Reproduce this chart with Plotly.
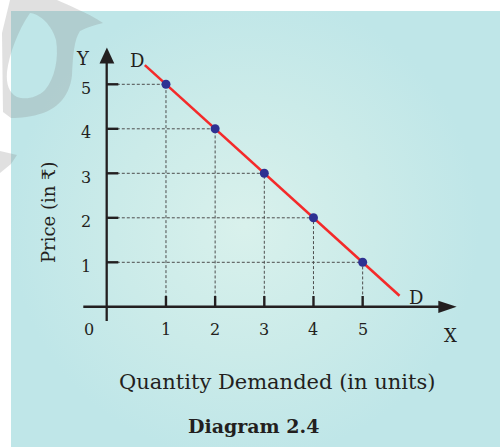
import base64
import plotly.graph_objects as go

# Demand schedule: quantity demanded at each price
quantity = [1, 2, 3, 4, 5]
price = [5, 4, 3, 2, 1]

# End points of the straight demand curve DD
curve_q = [0.57, 5.75]
curve_p = [5.43, 0.25]

# Axis tick values
x_ticks = [1, 2, 3, 4, 5]
y_ticks = [1, 2, 3, 4, 5]

# ---- geometry: figure size, pixel position of the origin and units per pixel ----
W, H = 500, 447
OX, OY = 116.8, 306.8
UX, UY = 49.17, 44.5


def dx(px):
    return (px - OX) / UX


def dy(py):
    return (OY - py) / UY


INK = "#231f20"
RED = "#f42a2a"
DOT = "#2e3192"
SERIF = "DejaVu Serif, Liberation Serif, serif"

# ---- background: white page, tinted panel with soft radial light, grey watermark ----
svg = f"""<svg xmlns='http://www.w3.org/2000/svg' width='{W}' height='{H}' viewBox='0 0 {W} {H}'>
<defs>
<radialGradient id='g' gradientUnits='userSpaceOnUse' cx='245' cy='225' r='235'>
<stop offset='0' stop-color='#d9f1ec'/>
<stop offset='0.55' stop-color='#cbebe9'/>
<stop offset='1' stop-color='#bfe6e8'/>
</radialGradient>
</defs>
<rect x='0' y='0' width='{W}' height='{H}' fill='#ffffff'/>
<rect x='11' y='11' width='{W - 11}' height='{H - 11}' fill='url(#g)'/>
<path fill='rgb(131,131,131)' fill-opacity='0.25' fill-rule='evenodd'
 d='M10,0 L57,0 C70,6 86,12 103,23 C95,25 88,27 80,31 C74,40 73,55 72,75
    C70,95 58,108 43,113 C32,117 20,118 11,118 L3,112 L2,33 Z
    M30,13 C40,14 52,25 56,40 C59,58 55,78 45,90 C37,98 25,100 17,97
    C9,93 6,84 7,72 C9,55 18,30 30,13 Z
    M0,151 L17,155 L11,164 L0,173 Z'/>
</svg>"""
bg_uri = "data:image/svg+xml;base64," + base64.b64encode(svg.encode("utf-8")).decode("ascii")

fig = go.Figure()

# dashed guides from each point to both axes
gx, gy = [], []
for q, p in zip(quantity, price):
    gx += [0, q, q, None]
    gy += [p, p, 0, None]
fig.add_trace(go.Scatter(
    x=gx, y=gy, mode="lines",
    line=dict(color="#4d4d4d", width=1, dash="3px,2px"),
    hoverinfo="skip", showlegend=False,
))

# demand curve
fig.add_trace(go.Scatter(
    x=curve_q, y=curve_p, mode="lines",
    line=dict(color=RED, width=2.6),
    hoverinfo="skip", showlegend=False,
))

# price-quantity combinations
fig.add_trace(go.Scatter(
    x=quantity, y=price, mode="markers",
    marker=dict(color=DOT, size=9, line=dict(width=0)),
    showlegend=False,
))

shapes = []
# vertical (price) axis with arrow head
ax_x = dx(106.7)
shapes.append(dict(type="line", x0=ax_x, x1=ax_x, y0=dy(321), y1=dy(62),
                   line=dict(color=INK, width=2.3)))
shapes.append(dict(type="path",
                   path=f"M{dx(99.5)},{dy(63.5)} L{dx(106.9)},{dy(47.5)} L{dx(114.3)},{dy(63.5)} Z",
                   fillcolor=INK, line=dict(width=0)))
# horizontal (quantity) axis with arrow head
shapes.append(dict(type="line", x0=dx(83.3), x1=dx(440), y0=0, y1=0,
                   line=dict(color=INK, width=2.5)))
shapes.append(dict(type="path",
                   path=f"M{dx(438.3)},{dy(300.7)} L{dx(456.7)},{dy(306.8)} L{dx(438.3)},{dy(312.9)} Z",
                   fillcolor=INK, line=dict(width=0)))
# tick marks
for p in y_ticks:
    shapes.append(dict(type="line", x0=ax_x, x1=dx(118.3), y0=p, y1=p,
                       line=dict(color=INK, width=2.4)))
for q in x_ticks:
    shapes.append(dict(type="line", x0=q, x1=q, y0=0, y1=dy(296),
                       line=dict(color=INK, width=2.4)))

ann = []


def label(x, y, text, size, **kw):
    d = dict(x=x, y=y, xref="x", yref="y", text=text, showarrow=False,
             font=dict(family=SERIF, size=size, color=INK),
             xanchor="center", yanchor="middle")
    d.update(kw)
    ann.append(d)


for p in y_ticks:
    label(dx(85.5), p, str(p), 16, yshift=-4)
for q in x_ticks:
    label(q, dy(329.3), str(q), 16)
label(dx(89), dy(329.3), "0", 16)
label(dx(82.5), dy(58), "Y", 18)
label(dx(450), dy(335), "X", 18)
label(dx(136.7), dy(60.7), "D", 18)
label(dx(416), dy(297.3), "D", 18)
label(dx(48.3), dy(211.7), "Price (in ₹)", 18, textangle=-90)
label(dx(276.7), dy(381.7), "Quantity Demanded (in units)", 21)
label(dx(253), dy(425.5), "<b>Diagram 2.4</b>", 19)

fig.update_layout(
    width=W, height=H,
    margin=dict(l=0, r=0, t=0, b=0),
    paper_bgcolor="rgba(0,0,0,0)",
    plot_bgcolor="rgba(0,0,0,0)",
    xaxis=dict(range=[dx(0), dx(W)], visible=False, fixedrange=True),
    yaxis=dict(range=[dy(H), dy(0)], visible=False, fixedrange=True),
    shapes=shapes,
    annotations=ann,
    images=[dict(source=bg_uri, xref="paper", yref="paper", x=0, y=1,
                 sizex=1, sizey=1, xanchor="left", yanchor="top",
                 sizing="stretch", layer="below")],
    showlegend=False,
)

fig.write_html("out.html")
